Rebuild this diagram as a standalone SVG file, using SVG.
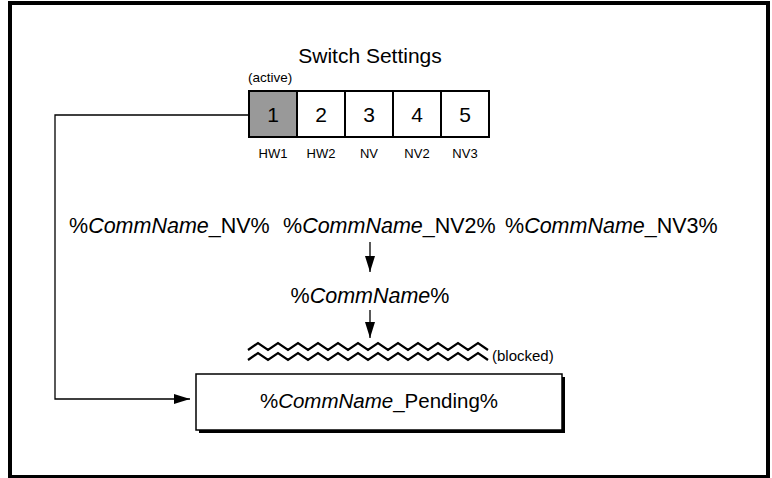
<svg xmlns="http://www.w3.org/2000/svg" width="772" height="478" viewBox="0 0 772 478">
<defs>
<style>
text{font-family:"Liberation Sans",Arial,sans-serif;fill:#000}
.big{font-size:20.5px}
.row{font-size:21.5px}
.sm{font-size:13.5px}
.num{font-size:21px;text-anchor:middle}
.lab{font-size:13px;text-anchor:middle}
.box{fill:#fff;stroke:#000;stroke-width:2}
.conn{fill:none;stroke:#000;stroke-width:1.3}
.zz{fill:none;stroke:#000;stroke-width:2.2}
</style>
<marker id="ah" markerWidth="16" markerHeight="10" refX="16" refY="5" orient="auto" markerUnits="userSpaceOnUse">
<path d="M0,0 L16,5 L0,10 Z" fill="#000"/>
</marker>
</defs>
<rect width="772" height="478" fill="#fff"/>
<rect x="10" y="3" width="758" height="474" fill="none" stroke="#000" stroke-width="4"/>

<g id="switch-settings">
<text x="370" y="63" font-size="21" text-anchor="middle">Switch Settings</text>
<text x="248" y="82" class="sm">(active)</text>
<rect x="249" y="91" width="48" height="46" fill="#999" stroke="#000" stroke-width="2"/>
<rect x="297" y="91" width="48" height="46" class="box"/>
<rect x="345" y="91" width="48" height="46" class="box"/>
<rect x="393" y="91" width="48" height="46" class="box"/>
<rect x="441" y="91" width="48" height="46" class="box"/>
<text x="273" y="122" class="num">1</text>
<text x="321" y="122" class="num">2</text>
<text x="369" y="122" class="num">3</text>
<text x="417" y="122" class="num">4</text>
<text x="465" y="122" class="num">5</text>
<text x="273" y="158" class="lab">HW1</text>
<text x="321" y="158" class="lab">HW2</text>
<text x="369" y="158" class="lab">NV</text>
<text x="417" y="158" class="lab">NV2</text>
<text x="465" y="158" class="lab">NV3</text>
</g>

<g id="nv-names">
<text x="69" y="233" class="row">%<tspan font-style="italic">CommName</tspan>_NV%</text>
<text x="283" y="233" class="row">%<tspan font-style="italic">CommName</tspan>_NV2%</text>
<text x="505" y="233" class="row">%<tspan font-style="italic">CommName</tspan>_NV3%</text>
</g>

<g id="commname">
<text x="370" y="303" class="row" text-anchor="middle">%<tspan font-style="italic">CommName</tspan>%</text>
</g>

<g id="blocked">
<path class="zz" d="M248,350 l10,-7 l10,7 l10,-7 l10,7 l10,-7 l10,7 l10,-7 l10,7 l10,-7 l10,7 l10,-7 l10,7 l10,-7 l10,7 l10,-7 l10,7 l10,-7 l10,7 l10,-7 l10,7 l10,-7 l10,7 l10,-7 l10,7"/>
<path class="zz" d="M248,360 l10,-7 l10,7 l10,-7 l10,7 l10,-7 l10,7 l10,-7 l10,7 l10,-7 l10,7 l10,-7 l10,7 l10,-7 l10,7 l10,-7 l10,7 l10,-7 l10,7 l10,-7 l10,7 l10,-7 l10,7 l10,-7 l10,7"/>
<text x="492" y="361" font-size="15">(blocked)</text>
</g>

<g id="pending">
<rect x="199" y="377" width="366" height="56" fill="#000"/>
<rect x="196" y="374" width="366" height="56" fill="#fff" stroke="#000" stroke-width="1.5"/>
<text x="379" y="408" class="big" text-anchor="middle">%<tspan font-style="italic">CommName</tspan>_Pending%</text>
</g>

<g id="connectors">
<polyline class="conn" points="249,115 55,115 55,399 190,399" marker-end="url(#ah)"/>
<line class="conn" x1="370" y1="242" x2="370" y2="272" marker-end="url(#ah)"/>
<line class="conn" x1="370" y1="310" x2="370" y2="338" marker-end="url(#ah)"/>
</g>
</svg>
